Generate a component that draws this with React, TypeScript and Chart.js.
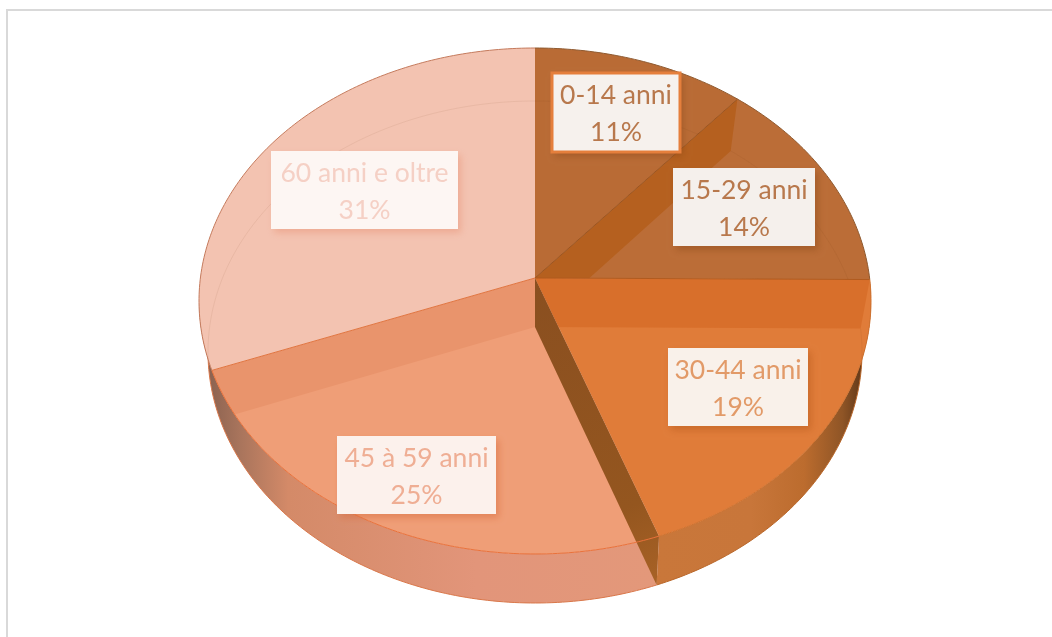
import React, { useEffect, useRef } from "react";
import { Chart, ArcElement, PieController } from "chart.js";

// ---- data ----
const categories = ["0-14 anni", "15-29 anni", "30-44 anni", "45 à 59 anni", "60 anni e oltre"];
const shares = [11.2, 13.9, 19.4, 24.7, 30.8];

// ---- styles ----
const faceColors = ["#b96b35", "#bb6d37", "#e07c39", "#ef9e77", "#f3c3b1"];
const bandColors = ["#b5601f", "#b5601f", "#d86f2b", "#e9946c", "#f3c3b1"];
const rimColors = ["#8f5a30", "#8f5a30", "#d0722f", "#e9713a", "#c47a5c"];
const textColors = ["#b8784c", "#b8784c", "#e29a68", "#efae94", "#f5d0c5"];
const boxFills = ["#f6f1ed", "#f5f0ec", "#f9f1ea", "#fcf1ec", "#fdf6f3"];
const shadowColors = ["rgba(120,60,15,.35)", "rgba(120,60,15,.35)", "rgba(170,80,20,.4)", "rgba(215,105,60,.5)", "rgba(230,140,110,.45)"];

// ---- view of the tilted disc ----
const topPlane = { cx: 535, cy: 301, rx: 336, ry: 253, k: 0.091 };
const lowPlane = { cx: 535, cy: 352, rx: 327, ry: 251, k: 0.0996 };
const labelBoxes = [
  { x: 552, y: 73, w: 128, h: 79, border: "#e57f3c" },
  { x: 673, y: 168, w: 142, h: 78, border: "" },
  { x: 668, y: 348, w: 140, h: 78, border: "" },
  { x: 337, y: 436, w: 159, h: 78, border: "" },
  { x: 271, y: 151, w: 187, h: 78, border: "" },
];

type Plane = typeof topPlane;
const project = (p: Plane, angle: number) => {
  const t = angle + Math.PI / 2;
  const u = Math.sin(t);
  const v = Math.cos(t);
  const d = 1 + p.k * v;
  return {
    x: p.cx + (p.rx * u * Math.sqrt(1 - p.k * p.k)) / d,
    y: p.cy - (p.ry * (v + p.k)) / d,
  };
};
const apex = (p: Plane) => ({ x: p.cx, y: p.cy - p.ry * p.k });

function rimPoints(p: Plane, a: number, b: number) {
  const n = Math.max(2, Math.ceil(Math.abs(b - a) / 0.015));
  const pts = [];
  for (let i = 0; i <= n; i++) pts.push(project(p, a + ((b - a) * i) / n));
  return pts;
}
function trace(ctx: CanvasRenderingContext2D, pts: { x: number; y: number }[], close = true) {
  ctx.beginPath();
  pts.forEach((q, i) => (i ? ctx.lineTo(q.x, q.y) : ctx.moveTo(q.x, q.y)));
  if (close) ctx.closePath();
}
const edgeQuad = (angle: number) => [apex(topPlane), project(topPlane, angle), project(lowPlane, angle), apex(lowPlane)];
const facePoly = (a: number, b: number) => [apex(topPlane), ...rimPoints(topPlane, a, b)];

class TiltedArc extends ArcElement {
  static id = "tiltedArc";
  drawSide(ctx: CanvasRenderingContext2D, i: number) {
    const { startAngle: a, endAngle: rawEnd } = this as any;
    if (i !== 2 && i !== 3) return;
    // the wall of the left slice wraps on round to the silhouette of the disc
    const b = i === 3 ? rawEnd + 0.3 : rawEnd;
    const pts = [...rimPoints(topPlane, a, b), ...rimPoints(lowPlane, b, a)];
    const g =
      i === 2 ? ctx.createLinearGradient(655, 0, 868, 0) : ctx.createLinearGradient(208, 0, 655, 0);
    if (i === 2) {
      g.addColorStop(0, "#c9773a");
      g.addColorStop(0.45, "#c8763a");
      g.addColorStop(0.7, "#bc6c2e");
      g.addColorStop(0.88, "#8f5526");
      g.addColorStop(1, "#553015");
    } else {
      g.addColorStop(0, "#8b6250");
      g.addColorStop(0.07, "#a8745c");
      g.addColorStop(0.18, "#d48a68");
      g.addColorStop(0.6, "#e2957a");
      g.addColorStop(1, "#e3987a");
    }
    trace(ctx, pts);
    ctx.fillStyle = g;
    ctx.fill();
    ctx.strokeStyle = i === 2 ? "#b9672a" : "#d9774a";
    ctx.lineWidth = 1;
    trace(ctx, rimPoints(lowPlane, a, b), false);
    ctx.stroke();
  }
  drawFace(ctx: CanvasRenderingContext2D, i: number) {
    const { startAngle: a, endAngle: b } = this as any;
    const options = (this as any).options;
    ctx.save();
    trace(ctx, facePoly(a, b));
    ctx.fillStyle = options.backgroundColor;
    ctx.fill();
    ctx.clip();
    ctx.fillStyle = bandColors[i];
    for (const angle of [a, b]) {
      trace(ctx, edgeQuad(angle));
      ctx.fill();
    }
    // far rim of the bottom disc, seen through the face
    ctx.strokeStyle = "rgba(120,60,20,.08)";
    ctx.lineWidth = 1;
    trace(ctx, rimPoints(lowPlane, a, b), false);
    ctx.stroke();
    ctx.restore();
  }
  drawCut(ctx: CanvasRenderingContext2D, i: number) {
    if (i !== 2) return;
    const b = (this as any).endAngle;
    const g = ctx.createLinearGradient(535, 278, 655, 585);
    g.addColorStop(0, "#8a4f20");
    g.addColorStop(0.75, "#94561f");
    g.addColorStop(1, "#a86226");
    trace(ctx, edgeQuad(b));
    ctx.fillStyle = g;
    ctx.fill();
  }
  drawRim(ctx: CanvasRenderingContext2D, i: number) {
    const { startAngle: a, endAngle: b } = this as any;
    ctx.strokeStyle = rimColors[i];
    ctx.lineWidth = 1;
    trace(ctx, rimPoints(topPlane, a, b), false);
    ctx.stroke();
    const s = project(topPlane, b);
    const o = apex(topPlane);
    trace(ctx, [o, s], false);
    ctx.strokeStyle = i === 0 ? "#9a5522" : i === 1 ? "#b05a1e" : i === 3 ? "#e0743f" : "rgba(0,0,0,0)";
    ctx.stroke();
  }
}

class TiltedPieController extends PieController {
  static id = "tiltedPie";
  static defaults = { ...(PieController as any).defaults, dataElementType: "tiltedArc" };
  draw() {
    const ctx = (this as any)._ctx;
    const arcs = (this as any)._cachedMeta.data as TiltedArc[];
    arcs.forEach((arc, i) => arc.drawSide(ctx, i));
    arcs.forEach((arc, i) => arc.drawFace(ctx, i));
    arcs.forEach((arc, i) => arc.drawCut(ctx, i));
    arcs.forEach((arc, i) => arc.drawRim(ctx, i));
  }
}

Chart.register(TiltedArc as any, TiltedPieController as any);

const labelPlugin = {
  id: "sliceLabels",
  afterDatasetsDraw(chart: any) {
    const ctx = chart.ctx as CanvasRenderingContext2D;
    const total = shares.reduce((s, v) => s + v, 0);
    categories.forEach((name, i) => {
      const b = labelBoxes[i];
      ctx.save();
      ctx.shadowColor = shadowColors[i];
      ctx.shadowBlur = 7;
      ctx.shadowOffsetX = 3;
      ctx.shadowOffsetY = 4;
      ctx.fillStyle = boxFills[i];
      ctx.fillRect(b.x, b.y, b.w, b.h);
      ctx.restore();
      if (b.border) {
        ctx.strokeStyle = b.border;
        ctx.lineWidth = 3;
        ctx.strokeRect(b.x, b.y, b.w, b.h);
      }
      ctx.fillStyle = textColors[i];
      ctx.font = '26.5px Lato, "Open Sans", sans-serif';
      ctx.textAlign = "center";
      ctx.textBaseline = "middle";
      const cx = b.x + b.w / 2;
      const cy = b.y + b.h / 2;
      ctx.fillText(name, cx, cy - 17);
      ctx.fillText(`${Math.round((shares[i] / total) * 100)}%`, cx, cy + 20);
    });
  },
};

export default function App() {
  const ref = useRef<HTMLCanvasElement>(null);
  useEffect(() => {
    const chart = new Chart(ref.current!, {
      type: "tiltedPie" as any,
      data: {
        labels: categories,
        datasets: [{ data: shares, backgroundColor: faceColors, borderWidth: 0 }],
      },
      options: {
        animation: false,
        responsive: false,
        plugins: { legend: { display: false }, tooltip: { enabled: false } },
      } as any,
      plugins: [labelPlugin],
    });
    return () => chart.destroy();
  }, []);
  return (
    <div style={{ position: "fixed", left: 0, top: 0, width: 1052, height: 637, background: "#fff", overflow: "hidden" }}>
      <div
        style={{
          position: "absolute",
          left: 6,
          top: 9,
          width: 1060,
          height: 640,
          borderLeft: "2px solid #d9d9d9",
          borderTop: "2px solid #d9d9d9",
        }}
      />
      <canvas ref={ref} width={1052} height={637} style={{ position: "absolute", left: 0, top: 0, display: "block" }} />
    </div>
  );
}
